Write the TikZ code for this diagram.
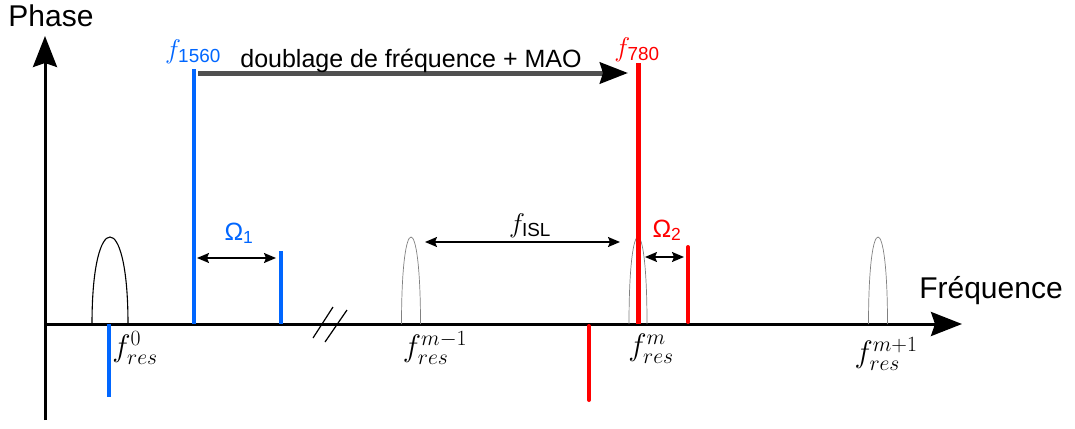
\documentclass[tikz,border=0pt]{standalone}
\usepackage{fix-cm}
\usepackage{amsmath}
\usepackage{fontspec}
\setmainfont{Liberation Sans}
\usetikzlibrary{arrows.meta}

\definecolor{bleu}{RGB}{0,102,255}
\definecolor{rouge}{RGB}{255,0,0}
\definecolor{gris}{RGB}{80,80,80}

\tikzstyle{axe} = [line width=3pt, -{Stealth[length=31pt,width=24pt,inset=4pt]}]
\tikzstyle{raie} = [line width=3.5pt]
\tikzstyle{ecart} = [line width=1.5pt, {Stealth[length=12pt,width=10pt,inset=2pt]}-{Stealth[length=12pt,width=10pt,inset=2pt]}]
\tikzstyle{texte} = [inner sep=0pt, font=\fontsize{25}{30}\selectfont]
\tikzstyle{freq} = [inner sep=0pt, font=\fontsize{27}{32}\selectfont]
\tikzstyle{resonance} = [inner sep=0pt, font=\fontsize{31}{36}\selectfont]
\tikzstyle{grostexte} = [inner sep=0pt, font=\fontsize{30}{35}\selectfont]

\begin{document}
\begin{tikzpicture}[x=1pt, y=-1pt]
\useasboundingbox (0,0) rectangle (1075,428);

% Coordinates
\coordinate (origine) at (45,324);
\coordinate (xfin) at (962,324);
\coordinate (ybas) at (45,420);
\coordinate (yfin) at (45,36);
\coordinate (depart) at (198,73);
\coordinate (arrivee) at (628,73);

% Axes
\draw [axe] (ybas) -- (yfin);
\draw [axe] (origine) -- (xfin);
\draw [line width=1.2pt] (313,338) -- (333,307);
\draw [line width=1.2pt] (325,342) -- (347,310);

% Modes de la cavite
\foreach \x/\w/\c/\lw in {110/18/black/1.1, 411/9.5/gray/0.7, 638/9/gray/0.7, 878/9.5/gray/0.7}
  \draw [\c, line width=\lw pt] (\x-\w,324) .. controls (\x-\w,265) and (\x-\w/2,237) .. (\x,237)
    .. controls (\x+\w/2,237) and (\x+\w,265) .. (\x+\w,324);

% Raies
\draw [raie, bleu] (194,69) -- (194,324);
\draw [raie, bleu] (281,251) -- (281,324);
\draw [raie, bleu] (109,324) -- (109,397);
\draw [raie, rouge, line width=5pt] (638,63) -- (638,324);
\draw [raie, rouge, line width=4pt, line cap=round] (688,247) -- (688,322);
\draw [raie, rouge, line width=4pt, line cap=round] (589,326) -- (589,400);

% Arrows
\draw [line width=5pt, gris, -{Stealth[black,length=28pt,width=21pt,inset=3pt]}] (depart) -- (arrivee);
\draw [ecart] (197,258) -- (276,258);
\draw [ecart] (645,257) -- (684,257);
\draw [ecart] (425,242) -- (620,242);

% Nodes
\node [grostexte, anchor=base] (phase) at (51,27) {Phase};
\node [grostexte, anchor=base] (frequence) at (991,298) {Fréquence};
\node [texte, anchor=base] (doublage) at (411,67) {doublage de fréquence + MAO};
\node [freq, bleu] (f1560) at (193,52) {$f_{\text{1560}}$};
\node [freq, rouge] (f780) at (637,50) {$f_{\text{780}}$};
\node [texte, bleu, anchor=base] (omega1) at (239,240) {Ω\textsubscript{1}};
\node [texte, rouge, anchor=base] (omega2) at (667,237) {Ω\textsubscript{2}};
\node [freq] (fisl) at (530,226) {$f_{\text{ISL}}$};
\node [resonance] (fres0) at (135,348) {$f_{res}^{0}$};
\node [resonance] (fresm1) at (435,348) {$f_{res}^{m-1}$};
\node [resonance] (fresm) at (651,349) {$f_{res}^{m}$};
\node [resonance] (fresp1) at (886,354) {$f_{res}^{m+1}$};

\end{tikzpicture}
\end{document}
